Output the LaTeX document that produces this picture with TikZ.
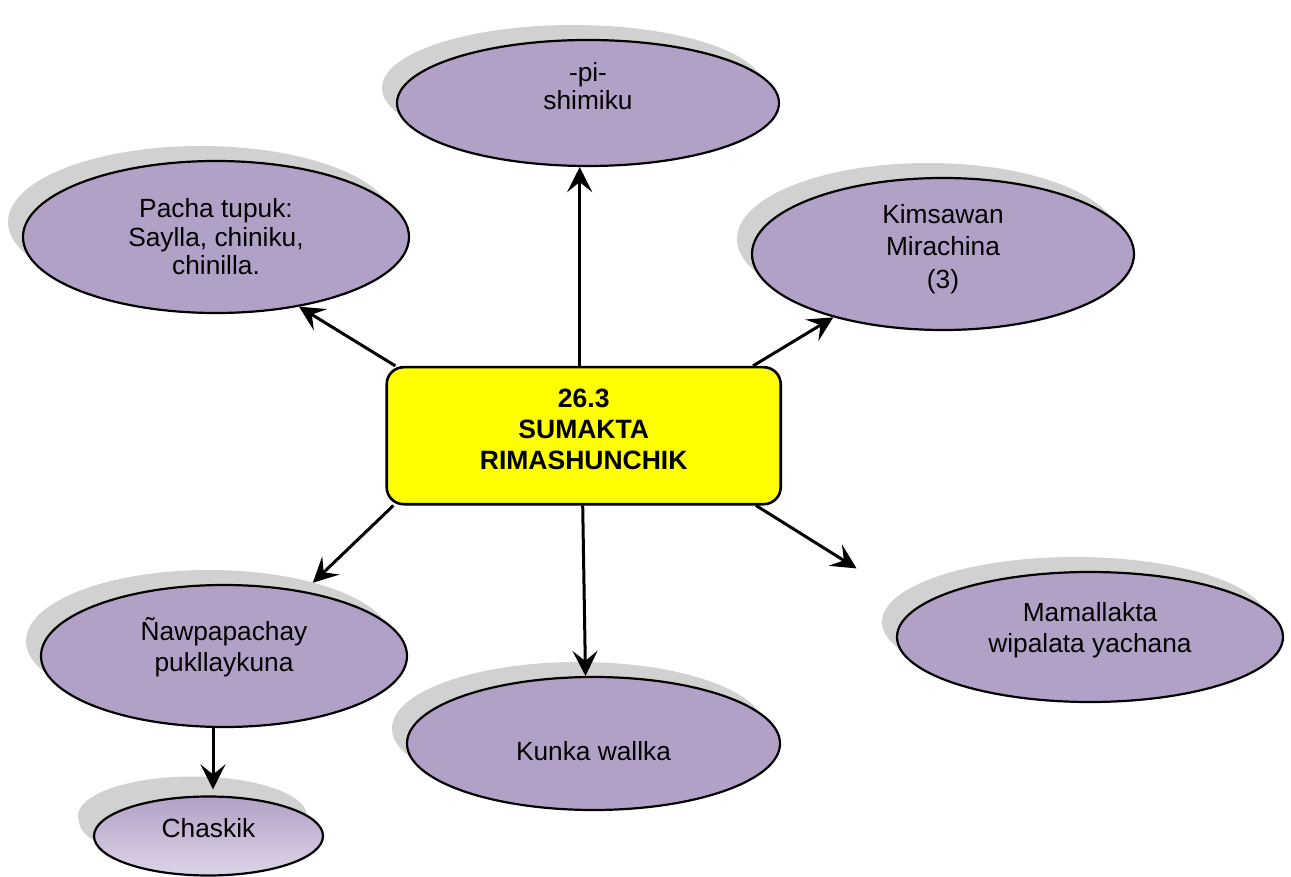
\documentclass[tikz,border=0pt]{standalone}
\usepackage{fontspec}
\setmainfont{Liberation Sans}
\usetikzlibrary{arrows.meta,shapes.geometric,shadows}

\definecolor{bubblefill}{HTML}{B2A1C7}
\definecolor{shadowgray}{HTML}{D1D1D1}
\definecolor{coreyellow}{RGB}{255,255,0}

\begin{document}
\begin{tikzpicture}[x=1pt,y=-1pt,
  bubble/.style={ellipse,draw=black,line width=2.2pt,fill=bubblefill,inner sep=0pt,
    general shadow={shadow xshift=-15pt,shadow yshift=15pt,fill=shadowgray}},
  bubtext/.style={align=center,inner sep=0pt,font=\fontsize{26.3}{30}\selectfont},
  corebox/.style={rectangle,rounded corners=17pt,draw=black,line width=2.6pt,
    fill=coreyellow,inner sep=0pt},
  link/.style={line width=3pt,-{Stealth[length=25pt,width=25pt,inset=10pt]}}]
\useasboundingbox (0,0) rectangle (1291,877);

    % the seven bubbles
    \node[bubble,minimum width=382pt,minimum height=126pt] (pi) at (588,103) {};
    \node[bubble,minimum width=386pt,minimum height=152pt] (pacha) at (216,237) {};
    \node[bubble,minimum width=382pt,minimum height=152pt] (kims) at (943,254) {};
    \node[bubble,minimum width=366pt,minimum height=142pt] (nawp) at (224,656) {};
    \node[bubble,minimum width=373pt,minimum height=133pt] (kunka) at (593.5,743.5) {};
    \node[bubble,minimum width=386pt,minimum height=130pt] (mama) at (1090,637) {};
    \node[bubble,minimum width=229pt,minimum height=79pt,
          general shadow={shadow xshift=-16pt,shadow yshift=20pt,fill=shadowgray},
          top color=bubblefill,middle color=bubblefill!92!white,
          bottom color=bubblefill!45!white] (chask) at (208.5,836) {};

    % centre box
    \node[corebox,minimum width=394pt,minimum height=137pt] (core) at (583.7,435.7) {};

    % bubble texts
    \node[bubtext,font=\fontsize{26.3}{28.5}\selectfont] (pi-t)
         at ([yshift=17pt]pi.center) {-pi-\\shimiku};
    \node[bubtext,font=\fontsize{26.3}{28.5}\selectfont] (pacha-t)
         at (pacha.center) {Pacha tupuk:\\Saylla, chiniku,\\chinilla.};
    \node[bubtext,font=\fontsize{26.3}{32.5}\selectfont] (kims-t)
         at ([yshift=5pt]kims.center) {Kimsawan\\Mirachina\\(3)};
    \node[bubtext,font=\fontsize{26.3}{31}\selectfont] (nawp-t)
         at ([yshift=9pt]nawp.center) {Ñawpapachay\\pukllaykuna};
    \node[bubtext] (kunka-t) at ([yshift=-8pt]kunka.center) {Kunka wallka};
    \node[bubtext,font=\fontsize{26.3}{31}\selectfont] (mama-t)
         at ([yshift=7pt]mama.center) {Mamallakta\\wipalata yachana};
    \node[bubtext] (chask-t) at ([yshift=8pt]chask.center) {Chaskik};
    \node[bubtext,font=\bfseries\fontsize{26.5}{31}\selectfont] (core-t)
         at ([yshift=6pt]core.center) {26.3\\SUMAKTA\\RIMASHUNCHIK};

    % arrows out of the centre
    \draw[link] ([xshift=-4pt]core.north) coordinate (up0) -- (up0 |- pi.south);
    \draw[link] ([xshift=10pt]core.north west) -- (pacha.-40);
    \draw[link] ([xshift=-29pt]core.north east) -- (kims.210);
    \draw[link,shorten >=12pt] ([xshift=8pt]core.south west) -- (nawp.39);
    \draw[link] ([xshift=-1pt]core.south) -- ([xshift=-8pt]kunka.north);
    \draw[link,shorten >=72pt] ([xshift=-26pt]core.south east) -- (mama.170);
    \draw[link,shorten >=6pt] ([xshift=-11pt]nawp.south) coordinate (dn0)
         -- (dn0 |- chask.north);
\end{tikzpicture}
\end{document}
